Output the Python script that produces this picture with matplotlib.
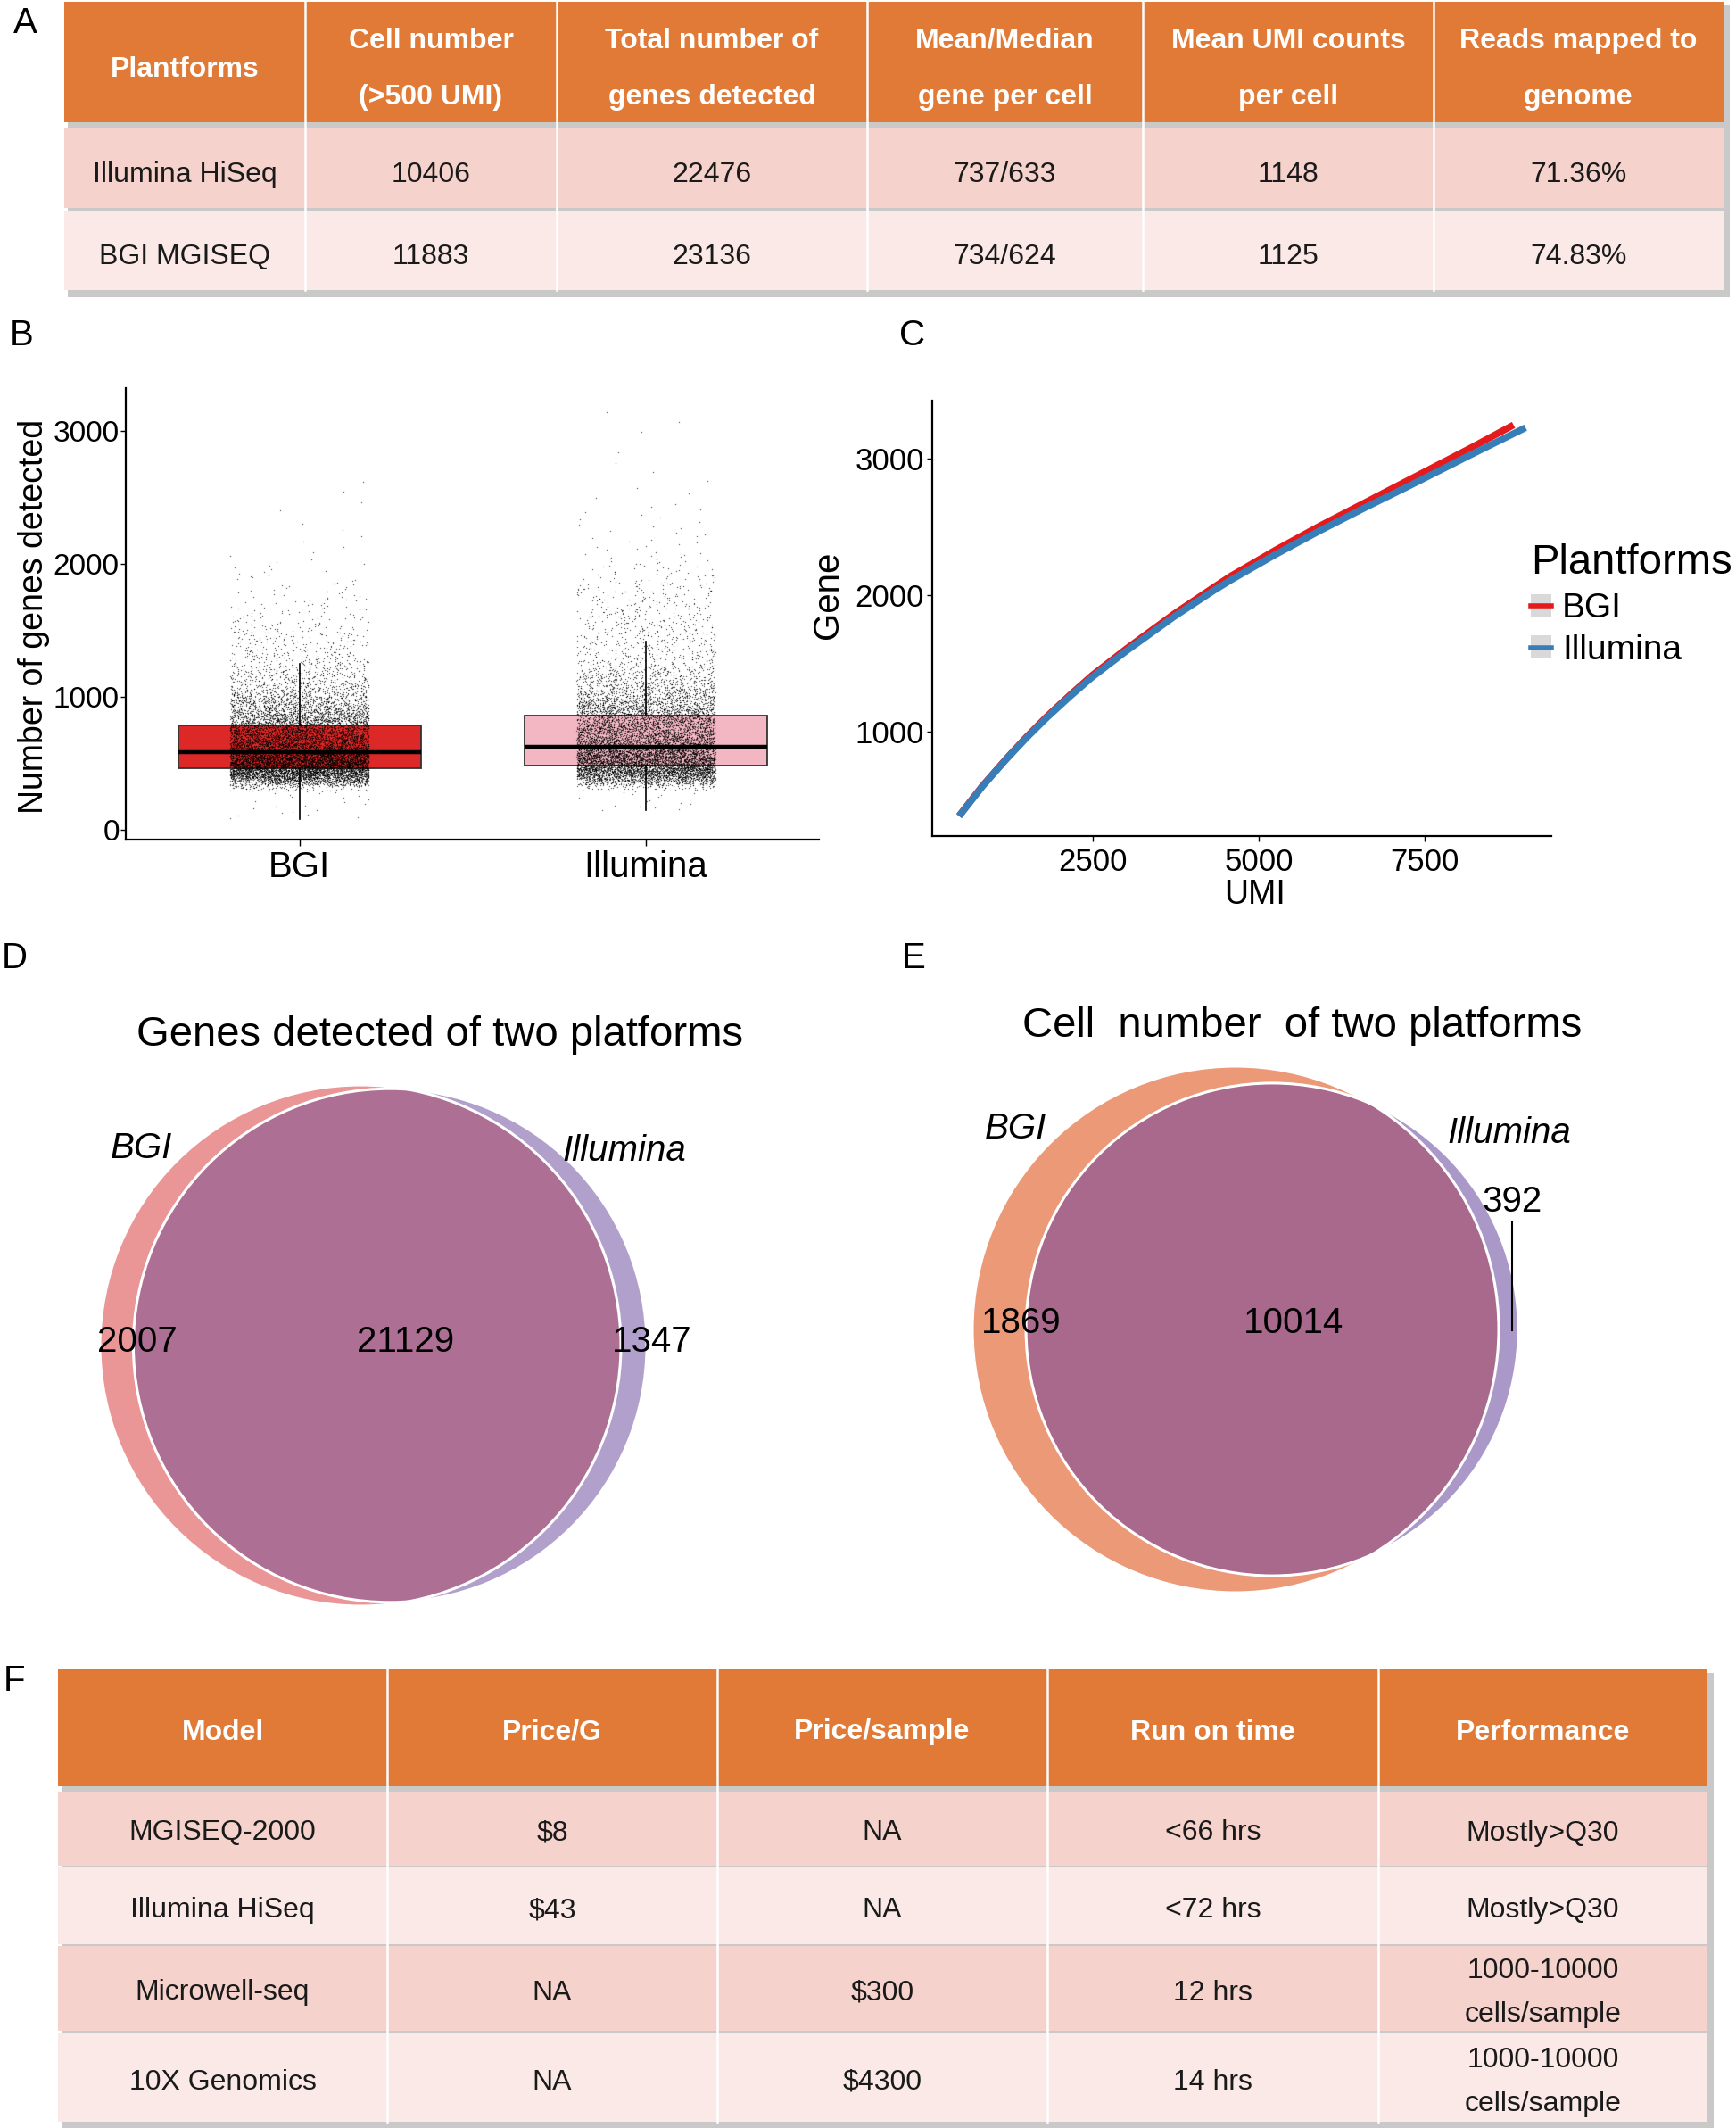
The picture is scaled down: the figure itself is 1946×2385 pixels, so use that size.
import numpy as np
import matplotlib.pyplot as plt
from matplotlib.patches import Rectangle, Circle, Patch
from matplotlib.lines import Line2D

plt.rcParams['font.family'] = ['Liberation Sans', 'DejaVu Sans']

W, H = 1946, 2385          # output size in px (dpi 100)

# ------------------------------
# data
# ------------------------------
# A: platform summary table
a_header = ["Plantforms", "Cell number\n(>500 UMI)", "Total number of\ngenes detected",
            "Mean/Median\ngene per cell", "Mean UMI counts\nper cell", "Reads mapped to\ngenome"]
a_rows = [["Illumina HiSeq", "10406", "22476", "737/633", "1148", "71.36%"],
          ["BGI MGISEQ", "11883", "23136", "734/624", "1125", "74.83%"]]

# B: genes per cell, box statistics
platforms = ["BGI", "Illumina"]
cell_counts = [11883, 10406]
box_q1 = [464, 482]
box_med = [579, 623]
box_q3 = [780, 855]
whisk_lo = [77, 142]
whisk_hi = [1249, 1416]
# quantiles of the jittered cells (estimated from the point cloud)
q_levels_bgi = [0, 0.002, 0.02, 0.05, 0.10, 0.25, 0.50, 0.75, 0.91, 0.96, 0.988, 0.995, 0.9988, 0.9997, 1.0]
q_genes_bgi = [77, 290, 345, 372, 400, 464, 579, 780, 1000, 1200, 1500, 1700, 2000, 2400, 2658]
q_levels_ill = [0, 0.002, 0.02, 0.05, 0.10, 0.25, 0.50, 0.75, 0.86, 0.93, 0.966, 0.985, 0.995, 0.999, 1.0]
q_genes_ill = [142, 300, 350, 380, 412, 482, 623, 855, 1000, 1200, 1500, 1750, 2000, 2500, 3175]

# C: UMI vs gene fit
umi_bgi = [520, 841, 1202, 1502, 1803, 2150, 2494, 3005, 3726, 4327, 4585, 5250, 5929, 6600, 7272, 8168, 8794]
gene_bgi = [404, 604, 804, 961, 1108, 1265, 1413, 1606, 1862, 2058, 2140, 2328, 2508, 2676, 2845, 3070, 3233]
umi_ill = [520, 841, 1202, 1502, 1803, 2150, 2494, 3005, 3726, 4327, 4585, 5250, 5929, 6600, 7272, 8168, 8975]
gene_ill = [402, 601, 800, 955, 1100, 1255, 1400, 1590, 1842, 2034, 2111, 2296, 2473, 2639, 2800, 3020, 3214]

# D / E: venn counts  [BGI only, both, Illumina only]
venn_genes = [2007, 21129, 1347]
venn_cells = [1869, 10014, 392]

# F: cost table
f_header = ["Model", "Price/G", "Price/sample", "Run on time", "Performance"]
f_rows = [["MGISEQ-2000", "$8", "NA", "<66 hrs", "Mostly>Q30"],
          ["Illumina HiSeq", "$43", "NA", "<72 hrs", "Mostly>Q30"],
          ["Microwell-seq", "NA", "$300", "12 hrs", "1000-10000\ncells/sample"],
          ["10X Genomics", "NA", "$4300", "14 hrs", "1000-10000\ncells/sample"]]

# ------------------------------
# colours
# ------------------------------
orange = '#E07A36'
row_cols = ['#F5D2CB', '#FAE9E6']
box_cols = ['#DC2826', '#F2B7C2']
line_cols = ['#E41A1C', '#377EB8']


def fx(x):
    return x / W


def fy(y):
    return 1 - y / H


def pchip(x, y, xn):
    # monotone cubic through the quantile knots
    x = np.asarray(x, float)
    y = np.asarray(y, float)
    h = np.diff(x)
    dl = np.diff(y) / h
    m = np.zeros_like(y)
    for k in range(1, len(x) - 1):
        if dl[k - 1] * dl[k] > 0:
            w1 = 2 * h[k] + h[k - 1]
            w2 = h[k] + 2 * h[k - 1]
            m[k] = (w1 + w2) / (w1 / dl[k - 1] + w2 / dl[k])
    m[0], m[-1] = dl[0], dl[-1]
    idx = np.clip(np.searchsorted(x, xn) - 1, 0, len(h) - 1)
    t = (xn - x[idx]) / h[idx]
    h00 = 2 * t ** 3 - 3 * t ** 2 + 1
    h10 = t ** 3 - 2 * t ** 2 + t
    h01 = -2 * t ** 3 + 3 * t ** 2
    h11 = t ** 3 - t ** 2
    return h00 * y[idx] + h10 * h[idx] * m[idx] + h01 * y[idx + 1] + h11 * h[idx] * m[idx + 1]


fig = plt.figure(figsize=(W / 100, H / 100), dpi=100)
ov = fig.add_axes([0, 0, 1, 1])
ov.set_xlim(0, W)
ov.set_ylim(H, 0)
ov.axis('off')


# ------------------------------
# tables
# ------------------------------
def draw_table(cols, tops, bots, header, rows, fs, head_ls, body_ls, dy):
    ov.add_patch(Rectangle((cols[0] + 4, tops[0] + 4), cols[-1] - cols[0] + 3,
                           bots[-1] - tops[0] + 4, fc='#C9C9C9', ec='none', zorder=0))
    for r in range(len(tops)):
        fc = orange if r == 0 else row_cols[(r - 1) % 2]
        ov.add_patch(Rectangle((cols[0], tops[r]), cols[-1] - cols[0], bots[r] - tops[r],
                               fc=fc, ec='none', zorder=1))
        cells = header if r == 0 else rows[r - 1]
        yc = (tops[r] + bots[r]) / 2 + dy
        for c, txt in enumerate(cells):
            xc = (cols[c] + cols[c + 1]) / 2
            if r == 0:
                ov.text(xc, yc, txt, ha='center', va='center', fontsize=fs, color='white',
                        fontweight='bold', linespacing=head_ls, parse_math=False, zorder=3)
            else:
                ov.text(xc, yc, txt, ha='center', va='center', fontsize=fs, color='#1a1a1a',
                        linespacing=body_ls, parse_math=False, zorder=3)
    for x in cols[1:-1]:
        ov.plot([x, x], [tops[0], bots[-1]], color='white', lw=1.8, zorder=2)


draw_table([72, 342, 624, 972, 1281, 1607, 1932], [2, 143, 236], [137, 233, 325],
           a_header, a_rows, 23, 2.45, 1.2, 8)
draw_table([65, 434, 804, 1174, 1545, 1914], [1871, 2008, 2093, 2181, 2279],
           [2002, 2091, 2179, 2276, 2378], f_header, f_rows, 23, 1.2, 1.85, 5)

# ------------------------------
# B: box plot with jittered cells
# ------------------------------
axB = fig.add_axes([fx(141.4), fy(941), fx(917.5 - 141.4), (941 - 435.3) / H])
stats = [dict(med=box_med[i], q1=box_q1[i], q3=box_q3[i], whislo=whisk_lo[i],
              whishi=whisk_hi[i], fliers=[]) for i in range(2)]
bp = axB.bxp(stats, positions=[1, 2], widths=0.7, patch_artist=True, showcaps=False,
             boxprops=dict(edgecolor='#333333', linewidth=1.3),
             medianprops=dict(color='black', linewidth=3.2),
             whiskerprops=dict(color='black', linewidth=1.2))
for patch, c in zip(bp['boxes'], box_cols):
    patch.set_facecolor(c)

for i, (n, lv, qv) in enumerate(zip(cell_counts, [q_levels_bgi, q_levels_ill],
                                    [q_genes_bgi, q_genes_ill])):
    k = np.arange(n)
    yv = pchip(lv, qv, (k + 0.5) / n)
    # deterministic jitter (hash of the cell index), +-0.2 around the category
    jit = (np.sin(k * 12.9898 + i * 78.233) * 43758.5453) % 1.0
    xv = i + 1 + 0.4 * (jit - 0.5)
    axB.scatter(xv, yv, s=1.1, color='black', alpha=0.5, linewidths=0, zorder=3)

axB.set_xlim(0.5, 2.498)
axB.set_ylim(-77, 3322)
axB.set_xticks([1, 2])
axB.set_xticklabels(platforms)
axB.set_yticks([0, 1000, 2000, 3000])
axB.tick_params(axis='x', labelsize=29, length=5, width=1, pad=3.5)
axB.tick_params(axis='y', labelsize=24, length=4, width=1, pad=1.5)
axB.set_ylabel('Number of genes detected', fontsize=27, va='center')
axB.yaxis.set_label_coords(-0.133, 0.494)
for s in ['top', 'right']:
    axB.spines[s].set_visible(False)
for s in ['left', 'bottom']:
    axB.spines[s].set_linewidth(1.6)

# ------------------------------
# C: UMI vs genes
# ------------------------------
axC = fig.add_axes([fx(1045.4), fy(937), fx(1738.8 - 1045.4), (937 - 448.7) / H])
axC.plot(umi_bgi, gene_bgi, color=line_cols[0], lw=5.5)
axC.plot(umi_ill, gene_ill, color=line_cols[1], lw=5.5)
axC.set_xlim(90, 9406)
axC.set_ylim(237, 3425)
axC.set_xticks([2500, 5000, 7500])
axC.set_yticks([1000, 2000, 3000])
axC.tick_params(labelsize=25, length=4, width=1)
axC.tick_params(axis='x', pad=5)
axC.tick_params(axis='y', pad=3)
axC.set_xlabel('UMI', fontsize=27, va='center')
axC.xaxis.set_label_coords(0.521, -0.135)
axC.set_ylabel('Gene', fontsize=29, va='center')
axC.yaxis.set_label_coords(-0.169, 0.553)
for s in ['top', 'right']:
    axC.spines[s].set_visible(False)
for s in ['left', 'bottom']:
    axC.spines[s].set_linewidth(1.6)

handles = [(Patch(fc='#D9D9D9', ec='none'), Line2D([], [], color=c, lw=4)) for c in line_cols]
axC.legend(handles, platforms, title='Plantforms', loc='upper left',
           bbox_to_anchor=(fx(1716), fy(609)), bbox_transform=fig.transFigure,
           frameon=False, fontsize=28, title_fontsize=34, handlelength=0.6,
           handleheight=0.62, handletextpad=0.3, labelspacing=0.28, borderpad=0,
           borderaxespad=0, alignment='left')


# ------------------------------
# D / E: venn diagrams
# ------------------------------
def lens_area(r1, r2, d):
    if d >= r1 + r2:
        return 0.0
    if d <= abs(r1 - r2):
        return np.pi * min(r1, r2) ** 2
    a1 = r1 ** 2 * np.arccos((d * d + r1 * r1 - r2 * r2) / (2 * d * r1))
    a2 = r2 ** 2 * np.arccos((d * d + r2 * r2 - r1 * r1) / (2 * d * r2))
    a3 = 0.5 * np.sqrt((-d + r1 + r2) * (d + r1 - r2) * (d - r1 + r2) * (d + r1 + r2))
    return a1 + a2 - a3


def draw_venn(counts, cx, cy, r1, c1, c2, c12):
    only1, both, only2 = counts
    scale = r1 / np.sqrt((only1 + both) / np.pi)
    r2 = scale * np.sqrt((only2 + both) / np.pi)
    target = both * scale ** 2
    lo, hi = abs(r1 - r2), r1 + r2
    for _ in range(80):
        mid = (lo + hi) / 2
        if lens_area(r1, r2, mid) > target:
            lo = mid
        else:
            hi = mid
    d = (lo + hi) / 2
    circ1 = Circle((cx, cy), r1, fc=c1, ec='none', zorder=1)
    circ2 = Circle((cx + d, cy), r2, fc=c2, ec='none', zorder=1)
    ov.add_patch(circ1)
    ov.add_patch(circ2)
    inter = Circle((cx, cy), r1, fc=c12, ec='none', zorder=2)
    ov.add_patch(inter)
    inter.set_clip_path(circ2)
    ov.add_patch(Circle((cx, cy), r1, fc='none', ec='white', lw=2.2, zorder=3))
    ov.add_patch(Circle((cx + d, cy), r2, fc='none', ec='white', lw=2.2, zorder=3))


draw_venn(venn_genes, 404, 1508, 292, '#EB9696', '#B2A0CC', '#AD7094')
ov.text(493, 1160, 'Genes detected of two platforms', ha='center', va='center', fontsize=34)
ov.text(158, 1287, 'BGI', ha='center', va='center', fontsize=29, style='italic')
ov.text(700, 1290, 'Illumina', ha='center', va='center', fontsize=29, style='italic')
for x, v in zip([154, 455, 731], venn_genes):
    ov.text(x, 1504, str(v), ha='center', va='center', fontsize=29, zorder=4)

draw_venn(venn_cells, 1385, 1490, 295, '#EC9978', '#AA98C9', '#A8698C')
ov.text(1460, 1150, 'Cell  number  of two platforms', ha='center', va='center', fontsize=34)
ov.text(1138, 1265, 'BGI', ha='center', va='center', fontsize=29, style='italic')
ov.text(1692, 1270, 'Illumina', ha='center', va='center', fontsize=29, style='italic')
ov.text(1145, 1483, str(venn_cells[0]), ha='center', va='center', fontsize=29, zorder=4)
ov.text(1450, 1483, str(venn_cells[1]), ha='center', va='center', fontsize=29, zorder=4)
ov.text(1695, 1347, str(venn_cells[2]), ha='center', va='center', fontsize=29, zorder=4)
ov.plot([1695, 1695], [1369, 1491], color='black', lw=1.5, zorder=4)

# ------------------------------
# panel letters
# ------------------------------
for lab, x, y in [('A', 28, 26), ('B', 24, 376), ('C', 1023, 376),
                  ('D', 16, 1074), ('E', 1024, 1074), ('F', 16, 1884)]:
    ov.text(x, y, lab, ha='center', va='center', fontsize=29)

fig.savefig('out.png', dpi=100)
